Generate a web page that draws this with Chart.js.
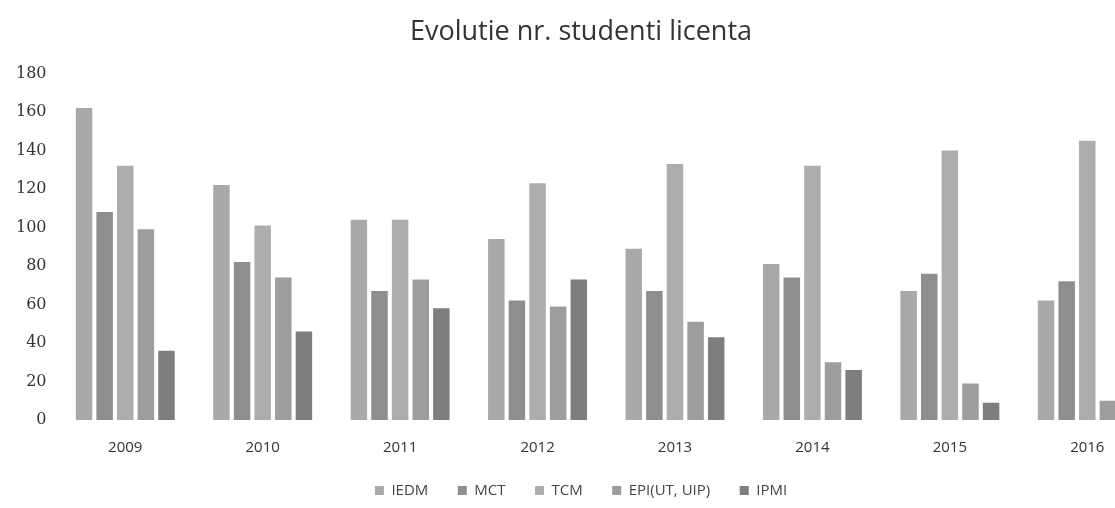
<!DOCTYPE html>
<html>
<head>
<meta charset="utf-8">
<script src="https://cdn.jsdelivr.net/npm/chart.js@4"></script>
<style>
  html, body { margin: 0; padding: 0; background: #fff; overflow: hidden; }
  #wrap { width: 1115px; height: 508px; overflow: hidden; position: relative; }
  #box { width: 1174px; height: 508px; position: absolute; left: 0; top: 0; }
</style>
</head>
<body>
<div id="wrap"><div id="box"><canvas id="chart"></canvas></div></div>
<script>
var years = ["2009", "2010", "2011", "2012", "2013", "2014", "2015", "2016"];
var iedm = [162, 122, 104, 94, 89, 81, 67, 62];
var mct = [108, 82, 67, 62, 67, 74, 76, 72];
var tcm = [132, 101, 104, 123, 133, 132, 140, 145];
var epi = [99, 74, 73, 59, 51, 30, 19, 10];
var ipmi = [36, 46, 58, 73, 43, 26, 9, null]; // 2016 is cut off in the scan

var ctx = document.getElementById("chart").getContext("2d");

var data = {
  labels: years,
  datasets: [
    { label: "IEDM", data: iedm, backgroundColor: "#a9aaa8" },
    { label: "MCT", data: mct, backgroundColor: "#8d8f8c" },
    { label: "TCM", data: tcm, backgroundColor: "#adaeac" },
    { label: "EPI(UT, UIP)", data: epi, backgroundColor: "#9c9e9b" },
    { label: "IPMI", data: ipmi, backgroundColor: "#7c7f7b" },
  ],
};

var options = {
  responsive: true,
  maintainAspectRatio: false,
  animation: false,
  layout: { padding: { left: 6, right: 18, top: 4, bottom: 0 } },
  datasets: {
    bar: { categoryPercentage: 0.75, barPercentage: 0.8 },
  },
  scales: {
    x: {
      grid: { display: false, drawTicks: false },
      border: { display: false },
      ticks: {
        color: "#333",
        padding: 19,
        font: { family: "'Open Sans', sans-serif", size: 15 },
      },
    },
    y: {
      min: 0,
      max: 180,
      grid: { display: false, drawTicks: false },
      border: { display: false },
      ticks: {
        stepSize: 20,
        color: "#333",
        padding: 10,
        font: { family: "'DejaVu Serif', serif", size: 16 },
      },
    },
  },
  plugins: {
    title: {
      display: true,
      text: "Evolutie nr. studenti licenta",
      color: "#333",
      font: { family: "'Open Sans', sans-serif", size: 27, weight: "normal" },
      padding: { top: 12, bottom: 25 },
    },
    legend: {
      display: true,
      position: "bottom",
      labels: {
        boxWidth: 9,
        boxHeight: 9,
        padding: 7,
        color: "#444",
        font: { family: "'Open Sans', sans-serif", size: 15 },
        // wider gaps between items, like the original
        generateLabels: function (chart) {
          var items = Chart.defaults.plugins.legend.labels.generateLabels(chart);
          items.forEach(function (it, i) {
            if (i < items.length - 1) it.text = it.text + "\u2003\u2002";
          });
          return items;
        },
      },
    },
    tooltip: { enabled: false },
  },
};

var myChart = new Chart(ctx, {
  type: "bar",
  data: data,
  options: options,
});
</script>
</body>
</html>
